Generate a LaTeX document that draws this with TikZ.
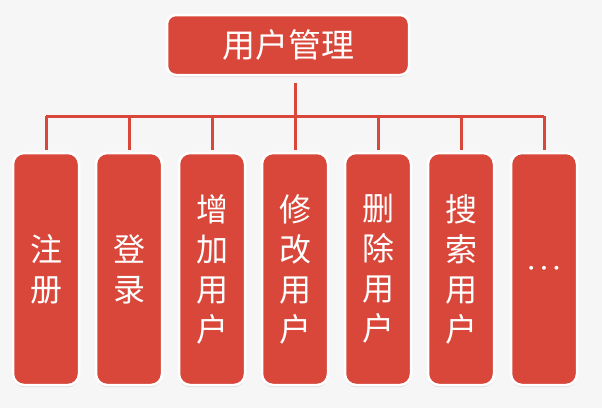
\documentclass[tikz,border=0pt]{standalone}
\usepackage{fontspec}
\usepackage{xcolor}
\usetikzlibrary{positioning,shadows}
\newfontfamily\cjk{Noto Sans CJK SC}
\definecolor{URed}{HTML}{D8473A}
\definecolor{UBack}{HTML}{F6F6F6}

\begin{document}
\begin{tikzpicture}[
  x=1pt,y=-1pt,
  node distance=14.5pt,
  top/.style={draw=white,line width=2.5pt,fill=URed,rounded corners=9pt,
    drop shadow={shadow xshift=0pt,shadow yshift=-2pt,opacity=0.25},
    minimum width=242pt,minimum height=60pt,text=white,
    font=\cjk\fontsize{33}{38}\selectfont},
  item/.style={draw=white,line width=2.5pt,fill=URed,rounded corners=11pt,
    drop shadow={shadow xshift=0pt,shadow yshift=-2pt,opacity=0.25},
    minimum width=66pt,minimum height=232pt,text=white,align=center,
    font=\cjk\fontsize{32}{40}\selectfont},
  bus/.style={draw=URed,line width=3pt}
]
  \fill[UBack] (0,0) rectangle (602,408);
  \useasboundingbox (0,0) rectangle (602,408);
  \node[top] (user) at (288,45) {用户管理};
  \node[item] (reg) at (46,269) {注\\册};
  \node[item,right=of reg] (login) {登\\录};
  \node[item,right=of login] (add) {增\\加\\用\\户};
  \node[item,right=of add] (edit) {修\\改\\用\\户};
  \node[item,right=of edit] (del) {删\\除\\用\\户};
  \node[item,right=of del] (find) {搜\\索\\用\\户};
  \node[item,right=of find] (more) {\raisebox{-7pt}{\fontsize{34}{34}\selectfont\boldmath$\cdots$}};
  % bus line
  \coordinate (hub) at (295,116);
  \foreach \n in {reg,login,add,edit,del,find,more}
    {\coordinate (j\n) at (\n.north |- hub);}
  \draw[bus] ([yshift=-7pt]hub |- user.south) -- (hub);
  \draw[bus] (jreg) -- (jmore);
  \foreach \n in {reg,login,add,edit,del,find,more}
    {\draw[bus] (j\n) -- ([yshift=2pt]\n.north);}
\end{tikzpicture}
\end{document}
